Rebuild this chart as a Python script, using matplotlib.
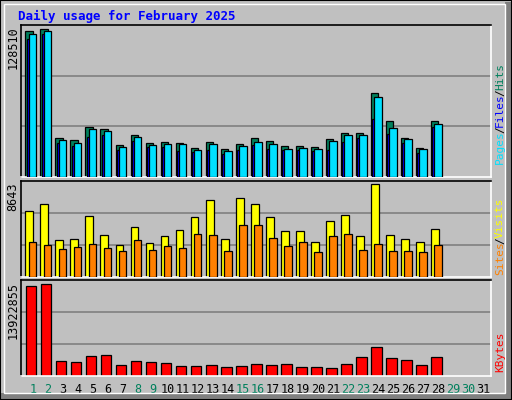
import matplotlib
matplotlib.use("Agg")
import matplotlib.pyplot as plt
from matplotlib.patches import Rectangle

days = list(range(1, 29))
hits = [126800, 128510, 34360, 32610, 43950, 42200, 28250, 36970, 30000, 30870, 30000, 25640, 30870, 24760,
        29120, 34360, 31740, 27380, 27380, 26510, 33480, 38720, 38720, 72720, 48310, 34360, 25640, 48310]
files = [124170, 126790, 32610, 30000, 42200, 40460, 26510, 35230, 28250, 29120, 29120, 23890, 29120, 23020,
         27380, 30870, 29120, 24760, 25640, 24760, 31740, 36970, 36970, 69240, 43080, 33480, 24760, 46560]
pages = [119810, 124170, 30000, 27380, 35230, 36970, 23890, 31740, 26510, 26510, 23020, 22150, 23890, 20400,
         23890, 28250, 24760, 23890, 23890, 23020, 23890, 30870, 34360, 50050, 37840, 30000, 21280, 43950]
visits = [6115, 6770, 3403, 3497, 5647, 3871, 2936, 4619, 3123, 3777, 4338, 5554, 7143, 3497,
          7330, 6797, 5554, 4245, 4245, 3216, 5180, 5741, 3777, 8643, 3871, 3497, 3216, 4432]
sites = [3244, 2936, 2562, 2749, 3029, 2655, 2375, 3403, 2468, 2842, 2655, 3964, 3871, 2375,
         4806, 4806, 3590, 2842, 3216, 2281, 3777, 3964, 2468, 3029, 2375, 2375, 2281, 2936]
kbytes = [13618000, 13922855, 2345900, 2193500, 3107500, 3259800, 1736600, 2345900, 2193500, 2041200,
          1584200, 1584200, 1736600, 1431900, 1584200, 1888900, 1736600, 1888900, 1431900, 1431900,
          1279600, 1888900, 2955200, 4478500, 2802900, 2498200, 1736600, 2955200]
day_labels = [str(d) for d in range(1, 32)]
weekend = [1, 2, 8, 9, 15, 16, 22, 23, 29, 30]

W, H = 512, 400
BG = "#c0c0c0"
fig = plt.figure(figsize=(W / 100, H / 100), dpi=100, facecolor=BG)
mono = "DejaVu Sans Mono"

def ax_at(x0, y0, x1, y1):
    return fig.add_axes([x0 / W, 1 - y1 / H, (x1 - x0) / W, (y1 - y0) / H])

# outer bevel
fig.patches.append(Rectangle(((W - 7) / W, 0), 6 / W, 1 - 2 / H, transform=fig.transFigure, fc="#808080", ec="none"))
fig.patches.append(Rectangle((0, 1 / H), 1, 6 / H, transform=fig.transFigure, fc="#808080", ec="none"))
fig.patches.append(Rectangle((4 / W, 7 / H), (W - 11) / W, (H - 11) / H, transform=fig.transFigure,
                             fill=False, ec="white", lw=1))
fig.patches.append(Rectangle((0, 0), 1, 1, transform=fig.transFigure, fill=False, ec="black", lw=1.5))

xlim = (0.18, 31.53)
lw = 0.9

def style(ax, ymax):
    ax.set_facecolor(BG)
    ax.set_xlim(*xlim)
    ax.set_ylim(0, ymax)
    for y in (ymax / 3, 2 * ymax / 3):
        ax.axhline(y, color="#808080", lw=1.2, zorder=0)
    ax.set_xticks([]); ax.set_yticks([])
    for s in ax.spines.values():
        s.set_color("black"); s.set_linewidth(1.2)
    ax.spines["right"].set_color("white"); ax.spines["bottom"].set_color("white")

a1 = ax_at(20.5, 25, 491, 177)
style(a1, 132300)
d = days
a1.bar([x - 0.49 for x in d], hits, width=0.47, align="edge", color="#00805c", ec="black", lw=lw, zorder=2)
a1.bar([x - 0.38 for x in d], pages, width=0.47, align="edge", color="#0000ff", ec="black", lw=lw, zorder=3)
a1.bar([x - 0.25 for x in d], files, width=0.49, align="edge", color="#00e0ff", ec="black", lw=lw, zorder=4)

a2 = ax_at(20.5, 180.5, 491, 277)
style(a2, 8976)
a2.bar([x - 0.49 for x in d], visits, width=0.53, align="edge", color="#ffff00", ec="black", lw=lw, zorder=2)
a2.bar([x - 0.25 for x in d], sites, width=0.49, align="edge", color="#ff8000", ec="black", lw=lw, zorder=3)

a3 = ax_at(20.5, 280, 491, 376)
style(a3, 14578000)
a3.bar([x - 0.45 for x in d], kbytes, width=0.69, align="edge", color="#ff0000", ec="black", lw=lw, zorder=2)

for i, lab in enumerate(day_labels):
    dd = i + 1
    a3.text(dd, -0.14, lab, transform=a3.get_xaxis_transform(), ha="center", va="center",
            fontsize=8.5, family=mono, color="#00805c" if dd in weekend else "black")

fig.text(18 / W, 1 - 16 / H, "Daily usage for February 2025", color="#0000ff", fontsize=9,
         family=mono, weight="bold", va="center")

def ylab(text, y_top):
    fig.text(13 / W, 1 - y_top / H, text, rotation=90, ha="center", va="top", fontsize=8.5, family=mono)
ylab(str(max(hits)), 26)
ylab(str(max(visits)), 182)
ylab(str(max(kbytes)), 282)

def rlabel(parts, y_bottom):
    y = y_bottom
    for txt, col in parts:
        fig.text(500 / W, 1 - y / H, txt, rotation=90, ha="center", va="bottom", fontsize=8,
                 family=mono, color=col)
        y -= len(txt) * 6.2
rlabel([("Pages", "#00e0ff"), ("/", "black"), ("Files", "#0000ff"), ("/", "black"), ("Hits", "#00805c")], 164)
rlabel([("Sites", "#ff8000"), ("/", "black"), ("Visits", "#ffff00")], 275)
rlabel([("KBytes", "#ff0000")], 372)

fig.savefig("out.png", dpi=100, facecolor=BG)
